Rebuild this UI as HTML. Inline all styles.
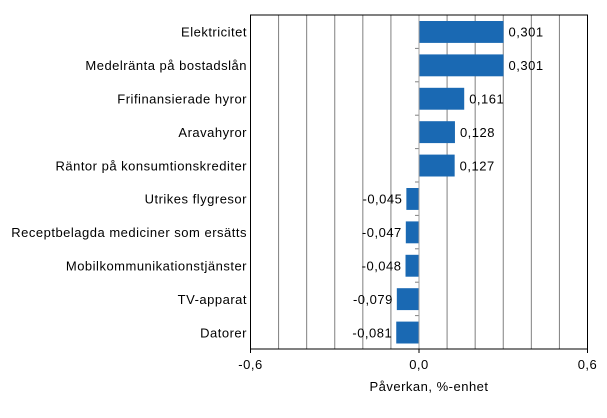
<!DOCTYPE html>
<html><head><meta charset="utf-8"><style>
body{margin:0;background:#fff;font-family:"Liberation Sans",sans-serif;}
text{letter-spacing:0.5px;}
</style></head><body>
<svg width="607" height="418" style="display:block">
<g id="g"></g>
</svg>
<script>
const categories=["Elektricitet","Medelränta på bostadslån","Frifinansierade hyror","Aravahyror","Räntor på konsumtionskrediter","Utrikes flygresor","Receptbelagda mediciner som ersätts","Mobilkommunikationstjänster","TV-apparat","Datorer"];
const values=[0.301,0.301,0.161,0.128,0.127,-0.045,-0.047,-0.048,-0.079,-0.081];
const valueLabels=["0,301","0,301","0,161","0,128","0,127","-0,045","-0,047","-0,048","-0,079","-0,081"];
const tickValues=[-0.6,0,0.6];
const tickLabels=["-0,6","0,0","0,6"];
const gridValues=[-0.5,-0.4,-0.3,-0.2,-0.1,0.1,0.2,0.3,0.4,0.5];
const L=250.5,R=587.5,T=15,B=349;
const x=v=>L+(v+0.6)/1.2*(R-L);
const band=(B-T)/categories.length;
const y=i=>T+i*band;
const g=document.getElementById('g');
const NS="http://www.w3.org/2000/svg";
function mk(t,a,txt){const e=document.createElementNS(NS,t);for(const k in a)e.setAttribute(k,a[k]);if(txt!=null)e.textContent=txt;g.appendChild(e);return e;}
gridValues.forEach(v=>{
const e=mk('line',{x1:x(v),x2:x(v),y1:T,y2:B,stroke:'#808080','stroke-width':1});


});
categories.forEach((c,i)=>{
const v=values[i];
const b=mk('rect',{x:Math.min(x(0),x(v)),y:y(i)+6,width:Math.abs(x(v)-x(0)),height:band-11.5,fill:'#1a69b3'});


const lx=v>=0?x(v)+5:x(v)-4;
const t=mk('text',{x:lx,y:y(i)+band/2+5,'font-size':13,'text-anchor':v>=0?'start':'end',fill:'#000'},valueLabels[i]);


const cl=mk('text',{x:247,y:y(i)+band/2+5,'font-size':13,'text-anchor':'end',fill:'#000'},c);


if(i>0){const tk=mk('line',{x1:x(0)-4,x2:x(0),y1:y(i),y2:y(i),stroke:'#808080'});

}
});
const z=mk('line',{x1:x(0),x2:x(0),y1:T,y2:B,stroke:'#a0a0a0'});


const fr=mk('rect',{x:L,y:T,width:R-L,height:B-T,fill:'none',stroke:'#000','stroke-width':1});


tickValues.forEach((v,i)=>{
const tk=mk('line',{x1:x(v),x2:x(v),y1:B,y2:B+4,stroke:'#000'});


const t=mk('text',{x:x(v),y:B+20,'font-size':13,'text-anchor':'middle'},tickLabels[i]);


});
const at=mk('text',{x:x(0)+10,y:B+42,'font-size':13,'text-anchor':'middle'},'Påverkan, %-enhet');


</script>
</body></html>
